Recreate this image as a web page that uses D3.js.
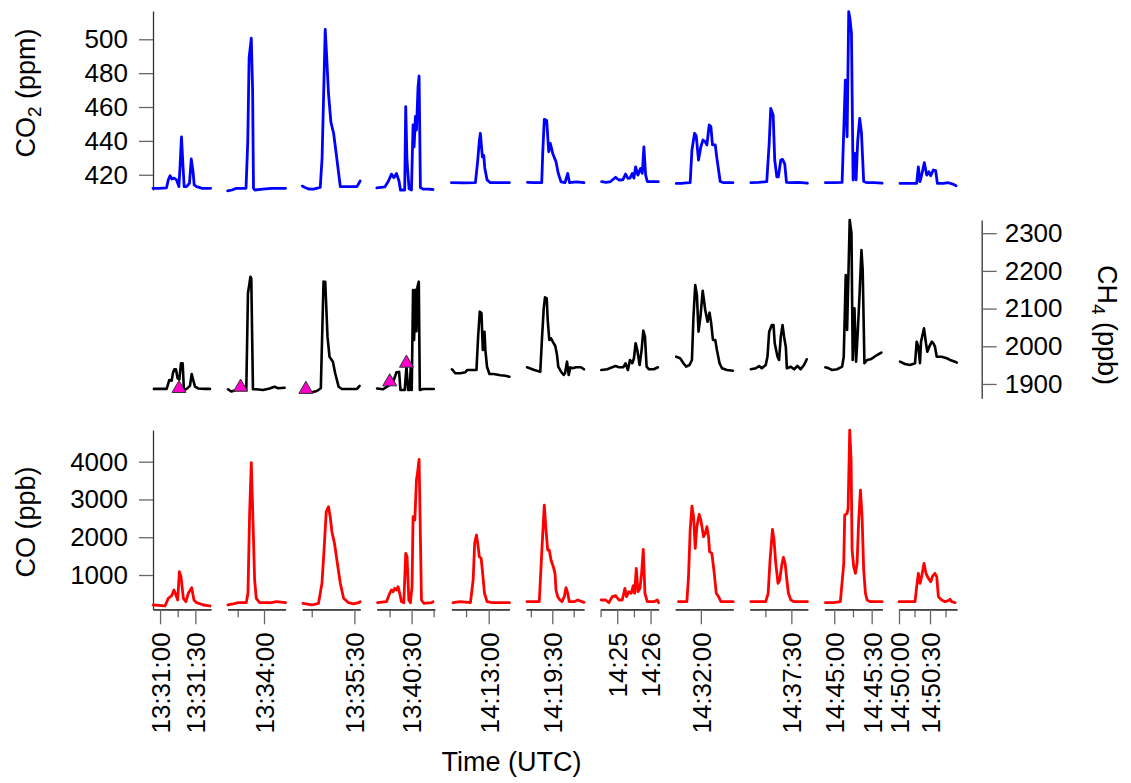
<!DOCTYPE html>
<html><head><meta charset="utf-8">
<script src="https://cdn.jsdelivr.net/npm/d3@7"></script>
<style>
body{margin:0;background:#fff}
svg{display:block}
text{font-family:"Liberation Sans",Arial,sans-serif;fill:#000}
</style>
</head><body>
<svg id="chart" width="1131" height="783"></svg>
<script>
// ---------- DATA ----------
// Segment start times (seconds of day, UTC) and durations (s)
const segStart = [48654, 48798.5, 48893.3, 49206.3, 51155.3, 51551.6, 51870, 52296.7, 52626, 53092.1, 53400];
const segDur   = [49.3, 66.1, 40.8, 39.5, 38.4, 40.6, 104.5, 52.7, 33.5, 46.5, 56.1];
// Labelled (major) and unlabelled (minor) ticks per segment
const majorTicks = [["13:31:00","13:31:30"],["13:34:00"],["13:35:30"],["13:40:30"],["14:13:00"],["14:19:30"],["14:25","14:26"],["14:32:00"],["14:37:30"],["14:45:00","14:45:30"],["14:50:00","14:50:30"]];
const minorTicks = [["13:31:15"],["13:33:30"],["13:35:00"],["13:40:15","13:40:45"],["14:12:45"],["14:19:15","14:19:45"],["14:24:30","14:25:30"],[],["14:37:15"],["14:45:15"],["14:50:15","14:50:45"]];
const co2Ticks = [420, 440, 460, 480, 500];
const ch4Ticks = [1900, 2000, 2100, 2200, 2300];
const coTicks  = [1000, 2000, 3000, 4000];
const co2Domain = [411, 516.7];
const ch4Domain = [1862, 2335];
const coDomain  = [92, 4839];

// [seconds after segment start, value]
const co2Data = [
 [[0,412],[5,412],[11.5,412.3],[13,417],[14.5,419.4],[16,417.5],[18,418],[20,417],[22,413],[23,425],[24.2,442.4],[25.5,425],[26.5,413],[28.5,413],[31,415],[32.5,429.3],[34,422],[35,414],[37,413],[42,412],[49,412]],
 [[0,410.5],[5,411],[10,412],[15,412],[21,412],[23,440],[24.5,489],[27,500.6],[28.5,470],[29.5,412],[31,411],[40,411.5],[50,412],[60,412],[66,412]],
 [[0,413.3],[2,412.5],[4.5,411.6],[8,411.5],[12.7,412.5],[14,430],[16.2,505.9],[17.2,490],[18.5,468],[20.2,451],[22.1,444.5],[23.9,432.6],[26.8,413],[30,413],[35,413],[38.5,413],[40.8,416.3]],
 [[0,412.3],[5.4,412.8],[7.7,415.9],[10,420.4],[11.6,418.3],[13.4,420.8],[15.2,416],[16.1,411],[19,411],[19.7,460.2],[20.5,430],[21,422.8],[22,411.7],[23.6,411],[24.7,449.4],[25.4,436.5],[26.3,454.4],[27,446.4],[28.1,472],[28.8,478.3],[29.7,412.5],[31.5,411.5],[35,411.5],[38.3,411.3]],
 [[0,415.3],[8,415.2],[15.9,415.3],[17.4,428],[18.5,440],[19.2,444.5],[20.5,430.6],[21.4,431.5],[22.1,424],[23.6,417],[25.8,415.3],[32,415.3],[38.4,415.3]],
 [[1,415.5],[6,415.3],[11,415.3],[11.7,432.6],[12.8,452.7],[14.5,452],[15.9,433.6],[17,438.5],[18.7,432.6],[21,427.7],[22.6,420.8],[24.5,415.8],[27.3,415.3],[29.2,420.8],[30.5,415.3],[35,415.8],[40.6,415.3]],
 [[1.8,415.9],[10,415.5],[18,416],[27,418.5],[33,416.9],[40,417],[45,420.4],[49.2,417.9],[53,418],[57.1,420.8],[60,418],[63.1,424.7],[67.3,419.8],[72,423.8],[75.1,420.8],[78,436.5],[81.1,420],[84.1,416],[95,415.9],[104,415.9]],
 [[0.9,414.9],[7,415],[13.6,415.3],[15.2,434.6],[17.6,444.5],[19.1,443],[21.2,428.7],[23.3,436.5],[25.2,440.5],[27.3,439.5],[28.8,437.6],[30.9,449.4],[32.4,448.5],[33.9,437.6],[36.4,437.6],[37.9,429.7],[40.9,416],[43.9,415.3],[48,415.3],[52.5,415.3]],
 [[0.6,415.3],[5,415.5],[9.8,415.9],[11.2,438.5],[12.1,459.2],[13.5,455.3],[14.4,428.7],[15.6,418.8],[16.5,418.8],[17.9,428.7],[18.9,429.1],[20.2,426.3],[21.2,415.5],[23.7,415.3],[28,415.5],[33.3,415]],
 [[0.8,415.3],[7,415.3],[14.2,415.5],[16.8,475.9],[18.2,442.4],[19.5,516.3],[20.5,512],[21.7,503.5],[23,416.9],[24.3,432.6],[25.4,417],[26.7,440],[28.3,453.3],[29.7,445],[31.5,416],[34.2,415.3],[40,415.3],[46.3,415]],
 [[1,414.9],[8,414.9],[17.1,414.9],[18.7,424.7],[20.3,416],[22,420],[24.5,427.1],[26.8,419.8],[29,421.8],[30.7,419.4],[33.2,422.8],[35.5,422.4],[37.1,415],[42.9,414.9],[47.7,415.3],[52,414.5],[55.2,413.5]]
];
const ch4Data = [
 [[0.8,1887],[6,1887],[11.6,1887],[13.9,1910.6],[15.9,1908.8],[17,1930],[18.1,1939],[19.5,1939],[20.9,1915],[22.4,1912],[23.8,1954.9],[25.2,1955],[26.3,1884],[28.6,1887],[31.4,1895],[32.9,1926.5],[34.2,1910],[35.7,1893],[38.5,1888],[44,1887],[48.4,1887]],
 [[0.4,1886],[4.2,1880],[9.9,1884],[15,1884],[21.3,1884],[23.2,2140.6],[25.1,2170],[26,2184.6],[27,2180],[28.9,1886],[32.7,1886],[40.3,1884],[47.9,1888],[50,1890],[53.6,1892.8],[57.4,1888.6],[65,1890]],
 [[0.9,1878],[6.8,1878],[10.3,1881.4],[13.1,1888.6],[15,2171.4],[16.2,2171],[17.8,2025.5],[19.2,1972.4],[21.6,1959.2],[23.2,1928.4],[25.6,1892.8],[27.9,1886.7],[33,1886.7],[38.5,1886.7],[40.4,1894.7]],
 [[0.2,1888],[4.3,1886],[7.7,1895],[11.1,1905],[13.4,1931],[15.2,1932],[16.1,1884],[19,1884],[20.2,1946],[21.3,1884],[22.4,1884],[23.1,1945],[23.8,1884],[24.7,2149.3],[25.4,2016.7],[26.3,2150],[27,2040],[27.7,2158],[28.6,2171.4],[29.3,1884],[31.5,1886.7],[35,1886.7],[38.8,1886.7]],
 [[0.4,1939],[2.6,1928.4],[6,1928.4],[9.3,1931],[10.4,1937],[16.6,1937],[17.7,2025.5],[18.8,2091.8],[19.9,2088],[20.8,1990],[21.9,2038.7],[22.5,1990],[23.6,1945],[25.2,1926.5],[28,1926.5],[32.5,1923],[35.8,1922],[38.4,1919.4]],
 [[0.7,1944.3],[5.8,1937],[10,1932.6],[11.2,2021.2],[12.4,2100],[13.3,2130],[14.5,2127.3],[15.2,2069.8],[16.3,2016.7],[17.5,2021.2],[19.4,2008],[20.5,2000.8],[21.7,1976.9],[22.6,1945.9],[24.5,1932.6],[26.4,1923.9],[27.3,1928.4],[28.7,1959.2],[29.9,1923.9],[31,1944],[32.6,1941.6],[35,1944.3],[38.5,1944.3],[40.6,1939]],
 [[1.2,1937],[12,1939],[21,1944.3],[27,1947.7],[33,1944.3],[40.8,1944.3],[45,1954.9],[49.2,1937],[52.9,1963.7],[57.1,1955],[60.1,1968.2],[63.1,2008],[66.1,1990],[70.3,1950.4],[73.9,1990],[76.9,2041.4],[79.9,2025.5],[82.9,1945.9],[87.1,1939],[96,1939],[103.3,1944.3]],
 [[0.9,1972.4],[4.5,1968.2],[7.5,1954.9],[10,1945.9],[13,1950.4],[15.2,1963.7],[16.6,2078.5],[18.2,2162.6],[19.7,2136],[21.2,2038.7],[23,2080],[25,2147],[27.3,2096.3],[29.4,2065.3],[31.2,2089.1],[32.7,2061],[34.3,2016.7],[36.4,2016.7],[37.9,1990.2],[40.3,1954.9],[42.5,1941.6],[47,1937.1],[52.5,1935.3]],
 [[0.6,1939],[3.5,1941.6],[5.4,1947.7],[6.9,1941.6],[9.2,1950.4],[10.2,1972],[11.2,2038.7],[12.7,2056.5],[13.7,2056.5],[14.4,2008],[16,1972.4],[16.9,1963.7],[17.9,2025.5],[18.9,2056.5],[19.8,2025.5],[20.8,1999],[21.4,1941.6],[23.7,1945.9],[25.6,1939],[27.5,1947.7],[29.4,1939],[31.3,1950.4],[32.9,1965.5]],
 [[0.8,1944.3],[3.5,1941.6],[6.2,1937.1],[10.2,1939],[14.2,1945.9],[15.5,1972.4],[17.1,2189.1],[18.2,2043.2],[20.3,2335],[21.7,2299.7],[22.7,1963.7],[24.1,2100.8],[25.4,1959.2],[26.7,2034.5],[28.1,2131.6],[29.7,2255.4],[30.7,2202.4],[32.1,1954.9],[34.2,1963.7],[36.9,1965.5],[39.5,1970.8],[42.3,1976.9],[45.7,1983]],
 [[1,1959.2],[5.8,1953],[10.6,1950.4],[15.5,1954.9],[17.1,2012.2],[18.7,1999],[20.3,1955],[21.3,2012.2],[24.2,2047.7],[26.1,2008],[27.4,1985.7],[29.3,1999],[31.7,2012.2],[33.2,2008],[34.8,1999],[36.5,1972.4],[41.3,1972.4],[46.2,1968.2],[49.4,1963.7],[54.2,1959.2],[55.9,1956.6]]
];
const coData = [
 [[0.3,206],[5,195],[10.2,180],[13,383.5],[15.9,452.3],[17.8,603],[19.5,470.8],[21,338.5],[22.4,1087],[23.8,955],[25.8,383.5],[28,293.5],[30,515.8],[32.9,664],[34.8,338.5],[37.1,267],[42.8,206],[48.4,180]],
 [[0.4,206],[6.1,232.7],[11.8,267],[21.3,267],[23.2,515.8],[25.1,2632.6],[27,3971.6],[28.9,2455.3],[30.8,867.7],[32.7,383.5],[36.5,267],[49.8,267],[55.5,293.5],[66.1,267]],
 [[0.5,251],[6.8,206],[11.5,251],[13.9,780],[15.5,1749],[16.9,2675],[18.5,2807],[19.7,2543],[20.9,2146],[22.7,1839],[24.4,1397],[26.8,780],[29.1,383.5],[32.6,267],[36.1,233],[39.6,267],[40.8,293.5]],
 [[0.5,267],[6.6,293.5],[8.8,515.8],[10,603],[11.1,558],[12.2,648],[13.4,603],[14.5,690],[15.6,515.8],[16.8,293.5],[18.4,267],[19.7,1574],[20.6,1484],[21.8,338.5],[22.9,267],[24,700],[24.7,2543],[25.9,2455],[27,3514],[27.7,3691],[28.8,4062],[29.7,2013],[30.4,338.5],[32,251],[37.2,267],[38.3,293.5]],
 [[1.1,267],[6,293.5],[12.6,267],[14.4,868],[15.4,1839],[16.6,2058],[17.7,1750],[18.5,1484],[19.7,1442],[20.7,1045],[21.9,515.8],[23.6,293.5],[26.9,267],[32.5,267],[38.4,267]],
 [[0.7,293.5],[5.8,293.5],[9.3,293.5],[11,1574],[12.8,2852],[14,2191],[15.2,1661],[16.3,1661],[17.5,1397],[19.1,1220],[20.3,1045],[21,603],[22.2,426],[23.8,338.5],[25.2,293.5],[26.8,426],[28,664],[29.2,516],[30.3,293.5],[33.8,293.5],[36.2,338.5],[40.6,276]],
 [[1.2,338.5],[9,338.5],[15,267],[21,426],[27,452],[33,338.5],[39,338.5],[43.8,648],[46.8,426],[51,558],[55.2,516],[58.8,717],[61.3,516],[64.3,1177],[67.3,558],[70.9,648],[73.9,1045],[76.9,1680],[79.9,516],[84.1,293.5],[96,293.5],[102.1,338.5],[104.5,267]],
 [[3,293.5],[10.6,293.5],[12.1,955],[13.6,2191],[15.2,2826],[16.7,2543],[18.2,1706],[19.7,2278],[21.8,2606],[23.3,2455],[25.8,2013],[27.3,2103],[28.8,2278],[30.3,2013],[31.2,1617],[33.3,1574],[35.5,1045],[37.3,516],[39.4,426],[41.5,293.5],[52.7,293.5]],
 [[0.6,293.5],[5,293.5],[9.2,293.5],[10.6,516],[11.7,1397],[13.1,2209],[14,1926],[15,1310],[16.3,780],[17.3,868],[18.3,1220],[19.4,1468],[20.4,1310],[21.4,868],[22.3,516],[23.7,338.5],[25.6,293.5],[33.3,293.5]],
 [[0.8,267],[7.5,267],[12.8,293.5],[15.5,1300],[16.3,2588],[18.2,2633],[19,2765],[20.3,4837],[21.4,4043],[22.2,1662],[23.5,1220],[24.9,1045],[26.2,1310],[27.5,2455],[28.9,3249],[30.2,2543],[31.5,1132],[32.9,516],[34.2,338.5],[36.9,293.5],[46.3,293.5]],
 [[0,293.5],[7.4,293.5],[15.5,293.5],[17.1,690],[18.7,1045],[20.3,780],[21.9,955],[24.2,1310],[26.1,1045],[28.4,913],[30.7,823],[32.6,973],[34.8,1045],[36.5,955],[38.1,426],[41.3,338.5],[44.5,293.5],[47.7,320],[49.4,357],[51,293.5],[54.2,267]]
];
// CH4 markers: [segment, seconds after segment start, value]
const ch4Markers = [[0,22.1,1888],[1,14.8,1891.5],[2,2.6,1885.7],[3,8.8,1905.8],[3,20.2,1955.2]];

// ---------- LAYOUT ----------
const svg = d3.select("#chart");
const FONT = 26;
const parseT = s => { const p = s.split(":").map(Number); return p[0]*3600 + p[1]*60 + (p[2]||0); };
const fmtInt = d3.format("d");

const band = d3.scaleBand().domain(d3.range(segStart.length)).range([153, 957]).paddingInner(0.2225).paddingOuter(0);
const xs = segStart.map((t0, i) => d3.scaleLinear().domain([t0, t0 + segDur[i]]).range([band(i), band(i) + band.bandwidth()]));

const yCO2 = d3.scaleLinear().domain(co2Domain).range([190, 11]);
const yCH4 = d3.scaleLinear().domain(ch4Domain).range([398.3, 220]);
const yCO  = d3.scaleLinear().domain(coDomain).range([609.3, 430]);

function styleAxis(g){
  g.attr("font-size", FONT).attr("font-family", '"Liberation Sans", Arial, sans-serif');
  g.select(".domain").attr("stroke", "#333").attr("stroke-width", 1.3);
  g.selectAll(".tick line").attr("stroke", "#666").attr("stroke-width", 1.3);
  g.selectAll(".tick text").attr("fill", "#000");
}

// Y axes
svg.append("g").attr("transform", "translate(153,0)")
  .call(d3.axisLeft(yCO2).tickValues(co2Ticks).tickFormat(fmtInt).tickSize(14).tickSizeOuter(0).tickPadding(11))
  .call(styleAxis);
svg.append("g").attr("transform", "translate(981.7,0)")
  .call(d3.axisRight(yCH4).tickValues(ch4Ticks).tickFormat(fmtInt).tickSize(15).tickSizeOuter(0).tickPadding(8))
  .call(styleAxis);
svg.append("g").attr("transform", "translate(153,0)")
  .call(d3.axisLeft(yCO).tickValues(coTicks).tickFormat(fmtInt).tickSize(14).tickSizeOuter(0).tickPadding(11))
  .call(styleAxis);

// Segment x axes
segStart.forEach((t0, i) => {
  svg.append("g").attr("transform", "translate(0,609.3)")
    .call(d3.axisBottom(xs[i]).tickValues(minorTicks[i].map(parseT)).tickSize(8).tickSizeOuter(0).tickFormat(""))
    .call(styleAxis);
  const labels = majorTicks[i];
  const gMaj = svg.append("g").attr("transform", "translate(0,609.3)")
    .call(d3.axisBottom(xs[i]).tickValues(labels.map(parseT)).tickSize(15).tickSizeOuter(0)
      .tickFormat((d, k) => labels[k]))
    .call(styleAxis);
  gMaj.selectAll(".tick text")
    .attr("transform", "rotate(-90)")
    .attr("text-anchor", "end")
    .attr("x", -23).attr("y", 0).attr("dy", "0.36em");
});

// Lines
const line = i => d3.line().x(d => xs[i](segStart[i] + d[0]));
function drawSeries(data, y, color, w){
  data.forEach((seg, i) => {
    svg.append("path").datum(seg)
      .attr("fill", "none").attr("stroke", color).attr("stroke-width", w)
      .attr("stroke-linejoin", "round").attr("stroke-linecap", "round")
      .attr("d", line(i).y(d => y(d[1])));
  });
}
drawSeries(co2Data, yCO2, "#0000ff", 2.8);
drawSeries(ch4Data, yCH4, "#000000", 2.6);
drawSeries(coData, yCO, "#ff0000", 2.8);

// Markers
svg.selectAll(".mk").data(ch4Markers).enter().append("path")
  .attr("transform", d => `translate(${xs[d[0]](segStart[d[0]] + d[1])},${yCH4(d[2])})`)
  .attr("d", d3.symbol(d3.symbolTriangle, 85))
  .attr("fill", "#ff00cc").attr("stroke", "#333").attr("stroke-width", 1);

// Axis titles
const t1 = svg.append("text").attr("transform", "translate(35,93) rotate(-90)").attr("text-anchor", "middle").attr("font-size", 27);
t1.append("tspan").text("CO");
t1.append("tspan").attr("font-size", 19).attr("dy", 6).text("2");
t1.append("tspan").attr("dy", -6).text(" (ppm)");

const t2 = svg.append("text").attr("transform", "translate(1098,325) rotate(90)").attr("text-anchor", "middle").attr("font-size", 27);
t2.append("tspan").text("CH");
t2.append("tspan").attr("font-size", 19).attr("dy", 6).text("4");
t2.append("tspan").attr("dy", -6).text(" (ppb)");

svg.append("text").attr("transform", "translate(35,522) rotate(-90)").attr("text-anchor", "middle").attr("font-size", 27).text("CO (ppb)");
svg.append("text").attr("x", 511.5).attr("y", 771).attr("text-anchor", "middle").attr("font-size", 27).text("Time (UTC)");
</script>
</body></html>
